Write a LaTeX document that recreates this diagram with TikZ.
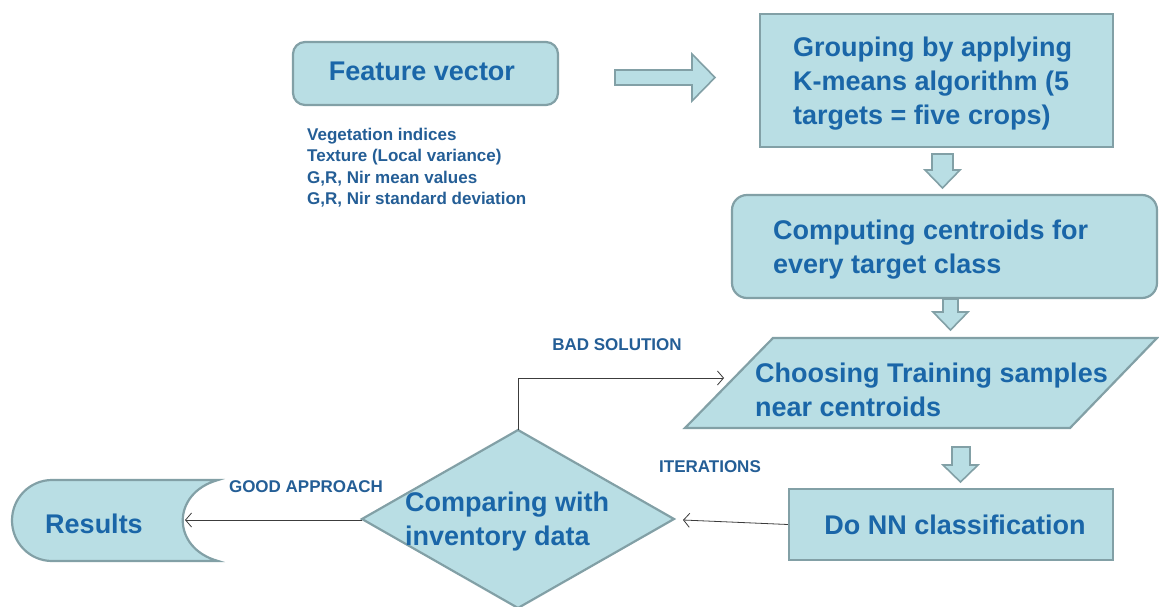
\documentclass[tikz,border=0pt]{standalone}
\usepackage{fontspec}
\setmainfont{Liberation Sans}
\usetikzlibrary{arrows.meta}
\definecolor{boxfill}{RGB}{185,222,228}
\definecolor{boxline}{RGB}{130,160,166}
\definecolor{txt}{RGB}{26,102,168}
\definecolor{lbl}{RGB}{36,94,150}
\definecolor{connc}{RGB}{60,60,60}
\begin{document}
\begin{tikzpicture}[x=1pt,y=-1pt,
  shapebox/.style={fill=boxfill,draw=boxline,line width=2.2pt},
  blockarrow/.style={fill=boxfill,draw=boxline,line width=1.6pt,line join=miter},
  big/.style={font=\fontsize{27}{34}\selectfont\bfseries,text=txt,inner sep=0pt},
  lab/.style={font=\fontsize{17}{17}\selectfont\bfseries,text=lbl,inner sep=0pt},
  conn/.style={draw=connc,line width=0.8pt,-{Straight Barb[length=6pt,width=14pt,line width=0.8pt]}}
]
\useasboundingbox[fill=white] (0,0) rectangle (1159,607);

% Feature vector
\node[shapebox,rounded corners=12pt,minimum width=265pt,minimum height=63pt,inner sep=0pt] (fv) at (425.5,73.5) {};
\node[big] (fvt) at (422,71) {Feature vector};
\node[anchor=north west,align=left,font=\fontsize{17}{21.3}\selectfont\bfseries,text=lbl,inner sep=0pt] (list) at (307,128)
  {Vegetation indices\\Texture (Local variance)\\G,R, Nir mean values\\G,R, Nir standard deviation};

% right block arrow
\draw[blockarrow] (615,70) -- (692,70) -- (692,54) -- (715,77.5) -- (692,101) -- (692,85) -- (615,85) -- cycle;

% Grouping
\node[shapebox,minimum width=353pt,minimum height=133pt,inner sep=0pt] (grp) at (936.5,80.5) {};
\node[big,anchor=west,align=left] (grpt) at (793,84) {Grouping by applying\\K-means algorithm (5\\targets = five crops)};

% down arrow 1
\draw[blockarrow] (932,154) -- (953,154) -- (953,170) -- (960,170) -- (942.5,188) -- (925,170) -- (932,170) -- cycle;

% Computing
\node[shapebox,rounded corners=15pt,minimum width=425pt,minimum height=103pt,inner sep=0pt] (cmp) at (944.5,246.5) {};
\node[big,anchor=west,align=left] (cmpt) at (773,250) {Computing centroids for\\every target class};

% down arrow 2
\draw[blockarrow] (943,299) -- (958,299) -- (958,312) -- (968,312) -- (950.5,330) -- (933,312) -- (943,312) -- cycle;

% Parallelogram
\draw[shapebox] (773,338) -- (1157,338) -- (1070,428) -- (685,428) -- cycle;
\coordinate (parL) at (724,378);
\node[big,anchor=west,align=left] (part) at (755,390) {Choosing Training samples\\near centroids};

% down arrow 3
\draw[blockarrow] (952,447) -- (970,447) -- (970,465) -- (978,465) -- (960.5,482) -- (943,465) -- (952,465) -- cycle;

% Do NN
\node[shapebox,minimum width=324pt,minimum height=71pt,inner sep=0pt] (nn) at (951,524.5) {};
\node[big] (nnt) at (955,525) {Do NN classification};

% Diamond
\draw[shapebox] (518,430) -- (674,519) -- (518,608) -- (362,519) -- cycle;
\coordinate (dtop) at (518,430);
\coordinate (dleft) at (362,520);
\coordinate (dright) at (683,520);
\node[big,anchor=west,align=left] (dt) at (405,521.5) {Comparing with\\inventory data};

% Results
\draw[shapebox] (218,480) -- (52,480) .. controls (30,480) and (12,498) .. (12,520.5)
  .. controls (12,543) and (30,561) .. (52,561) -- (218,561)
  .. controls (171,548) and (171,493) .. (218,480) -- cycle;
\coordinate (resR) at (185,520);
\node[big] (rest) at (94,524) {Results};

% connectors
\draw[conn] (dtop) |- (parL);
\draw[conn] (nn.west) -- (dright);
\draw[conn] (dleft) -- (resR);

% labels
\node[lab] (bad) at (617,345) {BAD SOLUTION};
\node[lab] (iter) at (710,467) {ITERATIONS};
\node[lab] (good) at (306,487) {GOOD APPROACH};
\end{tikzpicture}
\end{document}
